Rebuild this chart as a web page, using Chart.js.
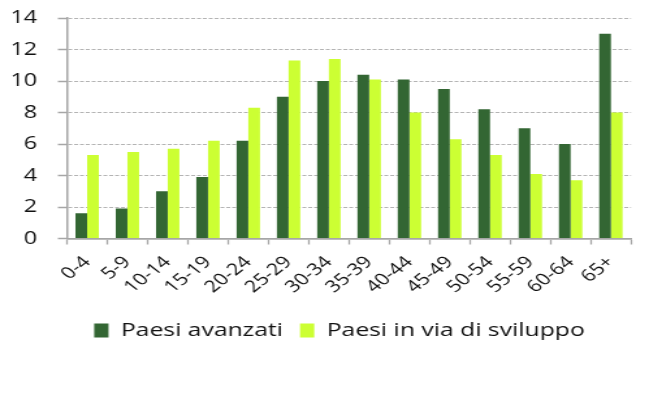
<!DOCTYPE html>
<html>
<head>
<meta charset="utf-8">
<script src="https://cdn.jsdelivr.net/npm/chart.js@4.4.1/dist/chart.umd.min.js"></script>
<style>
  html, body { margin: 0; padding: 0; background: #fff; overflow: hidden; }
  #c { display: block; width: 662px !important; height: 395px !important; }
</style>
</head>
<body>
<canvas id="c" width="509" height="395"></canvas>
<script>
const categories = ["0-4","5-9","10-14","15-19","20-24","25-29","30-34","35-39","40-44","45-49","50-54","55-59","60-64","65+"];
const seriesNames = ["Paesi avanzati", "Paesi in via di sviluppo"];
const avanzati = [1.6, 1.9, 3.0, 3.9, 6.2, 9.0, 10.0, 10.4, 10.1, 9.5, 8.2, 7.0, 6.0, 13.0];
const sviluppo = [5.3, 5.5, 5.7, 6.2, 8.3, 11.3, 11.4, 10.1, 8.0, 6.3, 5.3, 4.1, 3.7, 8.0];
const yMin = 0, yMax = 14, yStep = 2;

// The reference chart is horizontally stretched; the canvas is drawn at 509px wide
// and displayed at 662px wide to reproduce that look.
const FONT = "'Open Sans', sans-serif";
const gridGrey = '#b4b4b4';
const axisGrey = '#a6a6a6';

const legendShift = {
  id: 'legendShift',
  afterLayout(chart) {
    const l = chart.legend;
    if (l) { l.left += 16.4; l.right += 16.4; }
  }
};

new Chart(document.getElementById('c'), {
  type: 'bar',
  data: {
    labels: categories,
    datasets: [
      { label: seriesNames[0], data: avanzati, backgroundColor: '#336633', borderWidth: 0 },
      { label: seriesNames[1], data: sviluppo, backgroundColor: '#ccff33', borderWidth: 0 }
    ]
  },
  plugins: [legendShift],
  options: {
    responsive: false,
    animation: false,
    layout: { padding: { left: 4, right: 23.8, top: 18, bottom: 45 } },
    datasets: { bar: { categoryPercentage: 0.58, barPercentage: 1.0 } },
    plugins: {
      tooltip: { enabled: false },
      legend: {
        position: 'bottom',
        labels: {
          font: { family: FONT, size: 19 },
          color: '#111',
          boxWidth: 11,
          boxHeight: 14,
          padding: 13
        }
      }
    },
    scales: {
      x: {
        afterFit: (s) => { s.height = 69.5; },
        grid: {
          display: true,
          drawOnChartArea: false,
          tickLength: 6,
          tickColor: axisGrey,
          tickWidth: 1.3,
          offset: true
        },
        border: { display: true, color: axisGrey, width: 1.8 },
        ticks: {
          font: { family: FONT, size: 16.5 },
          color: '#111',
          maxRotation: 45,
          minRotation: 45,
          autoSkip: false,
          padding: 8
        }
      },
      y: {
        min: yMin,
        max: yMax,
        afterFit: (s) => { s.width = 47.5; s.paddingTop = 0; s.paddingBottom = 0; },
        ticks: {
          stepSize: yStep,
          font: { family: FONT, size: 18 },
          color: '#111',
          padding: 16
        },
        grid: {
          color: (ctx) => (ctx.tick && ctx.tick.value === 0) ? 'rgba(0,0,0,0)' : gridGrey,
          lineWidth: 1,
          tickLength: 7,
          tickColor: axisGrey,
          tickWidth: 1.5,
          tickBorderDash: []
        },
        border: { display: true, color: axisGrey, width: 1.5, dash: [3, 1.5] }
      }
    }
  }
});
</script>
</body>
</html>
